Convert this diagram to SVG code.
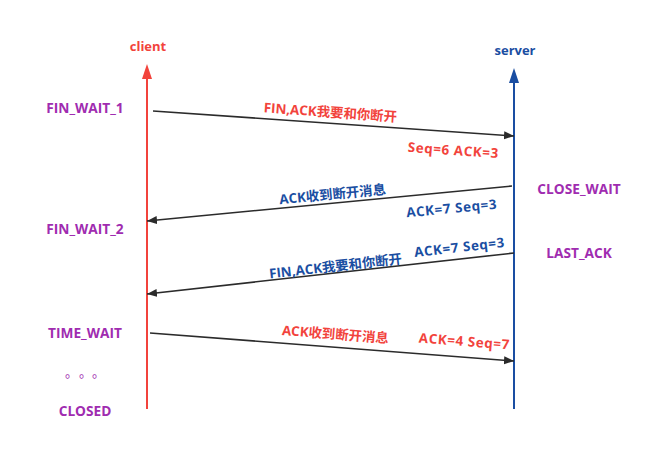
<svg xmlns="http://www.w3.org/2000/svg" width="664" height="454" viewBox="0 0 664 454">
<style>
text{font-family:"Open Sans","Noto Sans CJK SC",sans-serif;font-weight:bold;font-size:13px;text-anchor:middle}
.st{fill:#a02cb0;font-size:13.7px}
.m{font-size:13.4px}
.n{letter-spacing:0.6px}
.r{fill:#f2433c}
.b{fill:#1a4ea2}
.msg{stroke:#2b2b2b;stroke-width:1.6;fill:none;marker-end:url(#ah)}
</style>
<defs>
<marker id="ah" viewBox="0 0 10 10" refX="10" refY="5" markerWidth="10" markerHeight="10" markerUnits="userSpaceOnUse" orient="auto"><path d="M0,1 L10,5 L0,9 Z" fill="#2b2b2b"/></marker>
</defs>
<rect width="664" height="454" fill="#fff"/>
<g id="client">
<line x1="147" y1="409" x2="147" y2="78" stroke="#f2433c" stroke-width="2"/>
<path d="M147,64 L152,79 L142,79 Z" fill="#f2433c"/>
<text class="r" x="148" y="51">client</text>
</g>
<g id="server">
<line x1="514" y1="409" x2="514" y2="82" stroke="#1a4ea2" stroke-width="2"/>
<path d="M514,68 L519,83 L509,83 Z" fill="#1a4ea2"/>
<text class="b" x="515" y="55">server</text>
</g>
<g id="states">
<text class="st" x="85" y="113">FIN_WAIT_1</text>
<text class="st" x="85" y="234">FIN_WAIT_2</text>
<text class="st" x="85" y="338">TIME_WAIT</text>
<text class="st" x="65 79 92" y="377" style="font-size:13px;font-weight:normal;text-anchor:start">。。。</text>
<text class="st" x="85" y="416">CLOSED</text>
<text class="st" x="579" y="194">CLOSE_WAIT</text>
<text class="st" x="579" y="258">LAST_ACK</text>
</g>
<g id="connectors">
<line class="msg" x1="153" y1="111" x2="514" y2="136"/>
<line class="msg" x1="512" y1="186" x2="147" y2="221"/>
<line class="msg" x1="514" y1="253" x2="147" y2="294"/>
<line class="msg" x1="150" y1="333" x2="514" y2="361"/>
</g>
<g id="labels">
<text class="r m" transform="translate(330,117) rotate(4)">FIN,ACK我要和你断开</text>
<text class="r m n" transform="translate(453,155) rotate(4)">Seq=6 ACK=3</text>
<text class="b m" transform="translate(333,199) rotate(-5.5)">ACK收到断开消息</text>
<text class="b m n" transform="translate(452,213) rotate(-5.5)">ACK=7 Seq=3</text>
<text class="b m" transform="translate(336,271) rotate(-6.4)">FIN,ACK我要和你断开</text>
<text class="b m n" transform="translate(460,252) rotate(-6.4)">ACK=7 Seq=3</text>
<text class="r m" transform="translate(335,339) rotate(4.4)">ACK收到断开消息</text>
<text class="r m n" transform="translate(464,346) rotate(4.4)">ACK=4 Seq=7</text>
</g>
</svg>
